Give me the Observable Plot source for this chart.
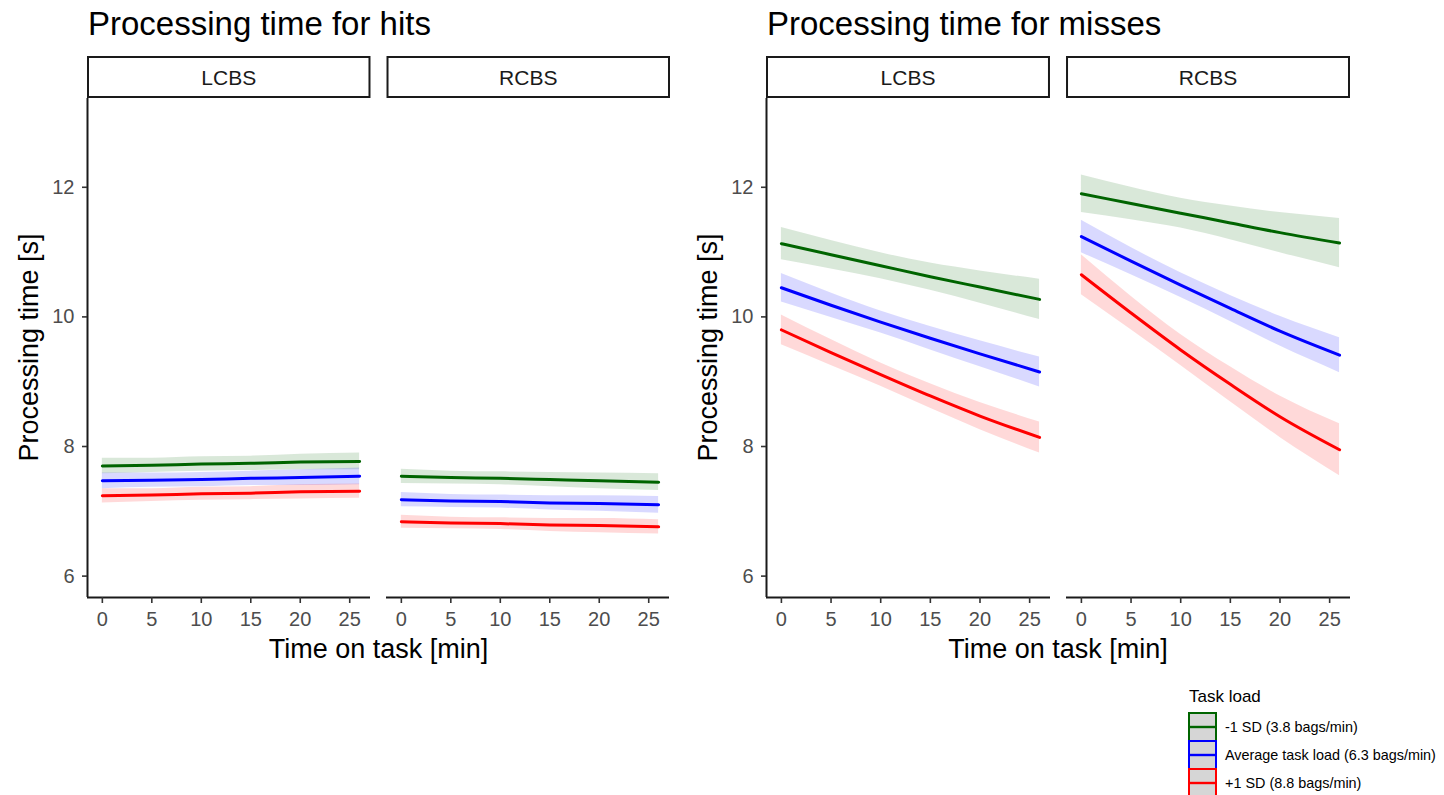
<!DOCTYPE html>
<html>
<head>
<meta charset="utf-8">
<script src="https://cdn.jsdelivr.net/npm/d3@7"></script>
<script src="https://cdn.jsdelivr.net/npm/@observablehq/plot@0.6"></script>
<style>
  html, body { margin: 0; padding: 0; background: #fff; }
  #root { position: relative; width: 1444px; height: 795px; overflow: hidden; background: #fff; }
  #root .panel { position: absolute; top: 0; }
  #overlay { position: absolute; left: 0; top: 0; pointer-events: none; }
</style>
</head>
<body>
<div id="root"></div>
<script>
// ---------- data ----------
const panelKeys = ["hits", "misses"];
const panelTitles = ["Processing time for hits", "Processing time for misses"];
const facets = ["LCBS", "RCBS"];
const loads = ["-1 SD (3.8 bags/min)", "Average task load (6.3 bags/min)", "+1 SD (8.8 bags/min)"];
const loadColors = ["#006400", "#0000ff", "#ff0000"];
const legendTitle = "Task load";
const xTitle = "Time on task [min]";
const yTitle = "Processing time [s]";
const xTicks = [0, 5, 10, 15, 20, 25];
const yTicks = [6, 8, 10, 12];
const xDomain = [-1.5, 27.1];
const yDomain = [5.67, 13.37];

const times = [0, 5, 10, 15, 20, 26];

// rows: -1 SD, average, +1 SD
const hits_LCBS_mean = [
  [7.70, 7.71, 7.73, 7.74, 7.76, 7.77],
  [7.47, 7.48, 7.49, 7.51, 7.52, 7.54],
  [7.24, 7.25, 7.27, 7.28, 7.30, 7.31]
];
const hits_LCBS_half = [
  [0.12, 0.11, 0.11, 0.11, 0.12, 0.13],
  [0.12, 0.11, 0.11, 0.11, 0.12, 0.13],
  [0.11, 0.10, 0.10, 0.10, 0.11, 0.11]
];
const hits_RCBS_mean = [
  [7.54, 7.52, 7.51, 7.49, 7.47, 7.45],
  [7.18, 7.16, 7.15, 7.13, 7.12, 7.10],
  [6.84, 6.82, 6.81, 6.79, 6.78, 6.76]
];
const hits_RCBS_half = [
  [0.11, 0.10, 0.10, 0.11, 0.12, 0.13],
  [0.11, 0.10, 0.10, 0.11, 0.12, 0.13],
  [0.10, 0.09, 0.09, 0.10, 0.11, 0.11]
];
const misses_LCBS_mean = [
  [11.13, 10.96, 10.79, 10.62, 10.46, 10.27],
  [10.45, 10.18, 9.92, 9.67, 9.43, 9.15],
  [9.80, 9.45, 9.11, 8.78, 8.47, 8.14]
];
const misses_LCBS_half = [
  [0.25, 0.22, 0.20, 0.21, 0.25, 0.31],
  [0.22, 0.19, 0.17, 0.18, 0.20, 0.23],
  [0.23, 0.20, 0.18, 0.19, 0.21, 0.24]
];
const misses_RCBS_mean = [
  [11.90, 11.75, 11.60, 11.45, 11.30, 11.14],
  [11.24, 10.86, 10.49, 10.13, 9.78, 9.41],
  [10.65, 10.06, 9.49, 8.96, 8.46, 7.95]
];
const misses_RCBS_half = [
  [0.29, 0.25, 0.23, 0.26, 0.31, 0.38],
  [0.25, 0.21, 0.19, 0.20, 0.23, 0.27],
  [0.31, 0.26, 0.24, 0.27, 0.32, 0.40]
];

const seriesData = {
  hits: {mean: {LCBS: hits_LCBS_mean, RCBS: hits_RCBS_mean}, half: {LCBS: hits_LCBS_half, RCBS: hits_RCBS_half}},
  misses: {mean: {LCBS: misses_LCBS_mean, RCBS: misses_RCBS_mean}, half: {LCBS: misses_LCBS_half, RCBS: misses_RCBS_half}}
};

// ---------- layout ----------
const FONT = "'Liberation Sans', Arial, Helvetica, sans-serif";
const panelLayout = [
  {left: 0, marginLeft: 87},
  {left: 680, marginLeft: 86}
];
const svgW = 700, svgH = 680, mTop = 98, mBottom = 83, mRight = 30;
const fxPad = 0.0535;

const root = d3.select("#root");

function buildRows(key) {
  const rows = [];
  facets.forEach(f => {
    loads.forEach((l, li) => {
      times.forEach((t, ti) => {
        const m = seriesData[key].mean[f][li][ti];
        const h = seriesData[key].half[f][li][ti];
        rows.push({facet: f, load: l, t, y: m, lo: m - h, hi: m + h});
      });
    });
  });
  return rows;
}

const frames = [];
panelKeys.forEach((key, pi) => {
  const lay = panelLayout[pi];
  const rows = buildRows(key);
  const chart = Plot.plot({
    width: svgW, height: svgH,
    marginTop: mTop, marginBottom: mBottom, marginLeft: lay.marginLeft, marginRight: mRight,
    style: {fontFamily: FONT, fontSize: "20px", color: "#4d4d4d", background: "transparent", overflow: "visible"},
    fx: {domain: facets, paddingInner: fxPad, paddingOuter: 0, axis: null, label: null},
    x: {domain: xDomain, label: null},
    y: {domain: yDomain, label: null},
    color: {domain: loads, range: loadColors},
    marks: [
      Plot.areaY(rows, {fx: "facet", x: "t", y1: "lo", y2: "hi", fill: "load", z: "load", fillOpacity: 0.15, curve: "monotone-x"}),
      Plot.lineY(rows, {fx: "facet", x: "t", y: "y", stroke: "load", z: "load", strokeWidth: 3, curve: "monotone-x"}),
      Plot.ruleY([yDomain[0]], {stroke: "#1a1a1a", strokeWidth: 2}),
      Plot.ruleX([{facet: facets[0], x: xDomain[0]}], {fx: "facet", x: "x", stroke: "#1a1a1a", strokeWidth: 2}),
      Plot.axisX({ticks: xTicks, tickSize: 6, tickPadding: 8, stroke: "#333333", strokeWidth: 1.6, fill: "#4d4d4d", fontSize: 20, label: null}),
      Plot.axisY({ticks: yTicks, tickSize: 5, tickPadding: 8, stroke: "#333333", strokeWidth: 1.6, fill: "#4d4d4d", fontSize: 20, label: null})
    ]
  });
  const div = root.append("div").attr("class", "panel").style("left", lay.left + "px");
  div.node().appendChild(chart);
  // facet frame geometry (for strips & titles)
  const plotW = svgW - lay.marginLeft - mRight;
  const step = plotW / (facets.length - fxPad);
  const bw = step * (1 - fxPad);
  frames.push({x0: lay.left + lay.marginLeft, step, bw, plotW});
});

// ---------- overlay text: titles, strips, axis titles, legend ----------
const ov = root.append("svg").attr("id", "overlay").attr("width", 1444).attr("height", 795)
  .style("font-family", FONT);

frames.forEach((fr, pi) => {
  ov.append("text").attr("x", fr.x0 + 1).attr("y", 35)
    .attr("font-size", 33).attr("fill", "#000").text(panelTitles[pi]);
  facets.forEach((f, fi) => {
    const x = fr.x0 + fi * fr.step;
    ov.append("rect").attr("x", x + 1).attr("y", 57).attr("width", fr.bw - 2).attr("height", 40)
      .attr("fill", "#fff").attr("stroke", "#1a1a1a").attr("stroke-width", 2);
    ov.append("text").attr("x", x + fr.bw / 2).attr("y", 78).attr("dy", "0.35em")
      .attr("text-anchor", "middle").attr("font-size", 21).attr("fill", "#1a1a1a").text(f);
  });
  ov.append("text").attr("x", fr.x0 + fr.plotW / 2).attr("y", 658)
    .attr("text-anchor", "middle").attr("font-size", 27).attr("fill", "#000").text(xTitle);
  ov.append("text").attr("transform", `translate(${fr.x0 - 49},${(mTop + svgH - mBottom) / 2}) rotate(-90)`)
    .attr("text-anchor", "middle").attr("font-size", 27).attr("fill", "#000").text(yTitle);
});

// legend
const lg = ov.append("g");
lg.append("text").attr("x", 1189).attr("y", 702).attr("font-size", 17).attr("fill", "#000").text(legendTitle);
loads.forEach((l, i) => {
  const y0 = 713 + i * 28;
  lg.append("rect").attr("x", 1189).attr("y", y0).attr("width", 27).attr("height", 28)
    .attr("fill", "#d6d6d6").attr("stroke", loadColors[i]).attr("stroke-width", 2);
  lg.append("line").attr("x1", 1189).attr("x2", 1216).attr("y1", y0 + 14).attr("y2", y0 + 14)
    .attr("stroke", loadColors[i]).attr("stroke-width", 2.4);
  lg.append("text").attr("x", 1225).attr("y", y0 + 14).attr("dy", "0.35em")
    .attr("font-size", 14.4).attr("fill", "#000").text(l);
});
</script>
</body>
</html>
